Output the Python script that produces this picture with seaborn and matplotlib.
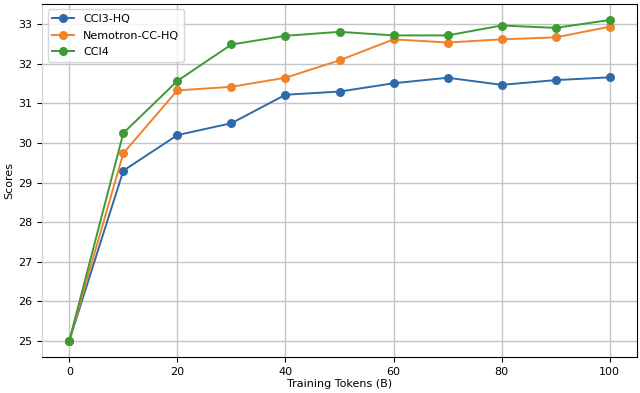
import numpy as np
import pandas as pd
import matplotlib
matplotlib.use("Agg")
import matplotlib.pyplot as plt
import seaborn as sns

# ===============================
# DATA
# ===============================
tokens = [0, 10, 20, 30, 40, 50, 60, 70, 80, 90, 100]
cci3_hq = [25.0, 29.3, 30.2, 30.5, 31.22, 31.3, 31.51, 31.65, 31.47, 31.59, 31.66]
nemotron_cc_hq = [25.0, 29.74, 31.33, 31.42, 31.65, 32.09, 32.62, 32.54, 32.62, 32.67, 32.94]
cci4 = [25.0, 30.25, 31.57, 32.49, 32.71, 32.81, 32.72, 32.72, 32.97, 32.91, 33.11]
series_names = ["CCI3-HQ", "Nemotron-CC-HQ", "CCI4"]

df = pd.concat([
    pd.DataFrame({"tokens": tokens, "score": vals, "model": name})
    for name, vals in zip(series_names, [cci3_hq, nemotron_cc_hq, cci4])
], ignore_index=True)

# ===============================
# PLOT
# ===============================
fig, ax = plt.subplots(figsize=(6.4, 3.93), dpi=100)
fig.subplots_adjust(left=0.066, right=0.995, top=0.99, bottom=0.092)

sns.lineplot(data=df, x="tokens", y="score", hue="model", hue_order=series_names,
             palette=["#2f6aa8", "#f0832a", "#3e9a35"], marker="o",
             markersize=6.5, markeredgewidth=0, linewidth=1.4, ax=ax)

ax.grid(True, color="#c4c4c4", linewidth=1.0)
ax.set_axisbelow(True)
ax.spines["left"].set_color("#d0d0d0")
ax.set_xlabel("Training Tokens (B)", fontsize=8, labelpad=2)
ax.set_ylabel("Scores", fontsize=8, labelpad=3)
ax.tick_params(labelsize=8)
ax.set_xticks([0, 20, 40, 60, 80, 100])
ax.legend(loc="upper left", fontsize=8, frameon=True, labelspacing=0.6)

plt.savefig("out.png", dpi=100)
plt.close()
